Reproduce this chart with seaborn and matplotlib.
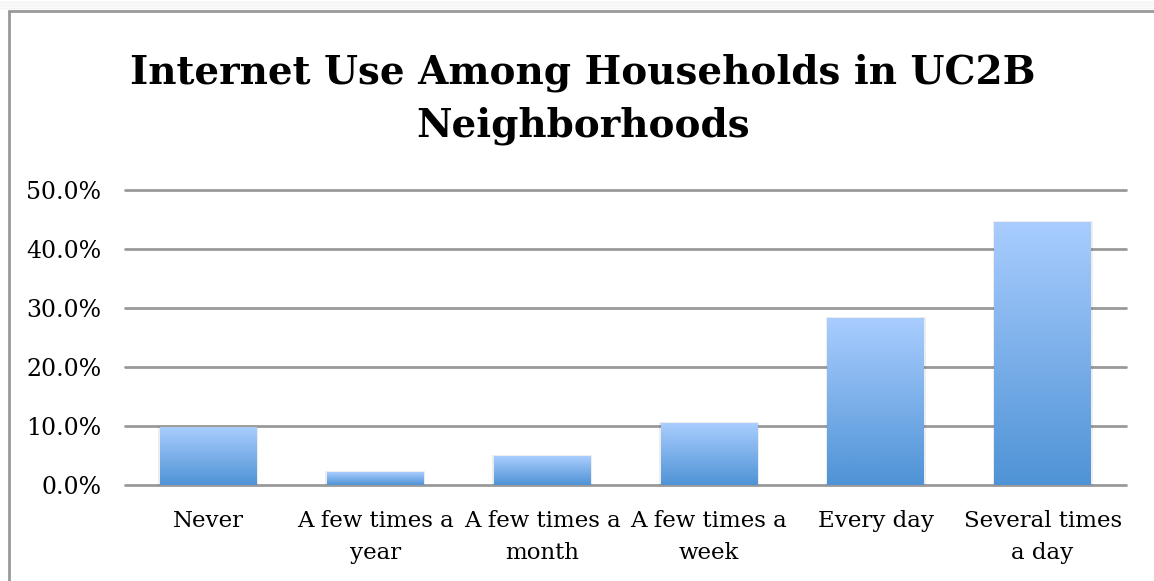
import numpy as np
import pandas as pd
import matplotlib
matplotlib.use("Agg")
import matplotlib.pyplot as plt
import matplotlib.patches as mpatches
from matplotlib.colors import LinearSegmentedColormap
import seaborn as sns

categories = ["Never", "A few times a\nyear", "A few times a\nmonth",
              "A few times a\nweek", "Every day", "Several times\na day"]
values = [9.8, 2.2, 4.9, 10.5, 28.3, 44.6]
yticks = [0, 10, 20, 30, 40, 50]
title = "Internet Use Among Households in UC2B\nNeighborhoods"

sns.set_theme(style="white")
plt.rcParams['font.family'] = ['DejaVu Serif']
plt.rcParams['text.color'] = 'black'
plt.rcParams['xtick.color'] = 'black'
plt.rcParams['ytick.color'] = 'black'

fig = plt.figure(figsize=(11.54, 5.81), dpi=100)
ax = fig.add_axes([125/1154, 1-485/581, 1001/1154, 295/581])

df = pd.DataFrame({"cat": categories, "val": values})
sns.barplot(data=df, x="cat", y="val", ax=ax, width=0.58, color="#7fb0ea",
            saturation=1, zorder=3)

ax.set_ylim(0, 50)
ax.set_xlim(-0.5, len(categories)-0.5)
ax.set_yticks(yticks)
ax.set_yticklabels([f"{t:.1f}%" for t in yticks], fontsize=17)
ax.set_xticks(range(len(categories)))
ax.set_xticklabels(categories, fontsize=16.5, linespacing=1.6)
ax.tick_params(axis='x', length=0, pad=18, colors='black')
ax.tick_params(axis='y', length=0, pad=17, colors='black')
ax.set_xlabel("")
ax.set_ylabel("")
for s in ax.spines.values():
    s.set_visible(False)
ax.yaxis.grid(True, color="#999999", linewidth=2, zorder=0)
for gl in ax.get_ygridlines():
    gl.set_clip_on(False)
ax.set_axisbelow(True)

cmap = LinearSegmentedColormap.from_list("g", ["#4f93d6", "#a9cdfe"])
grad = np.linspace(0, 1, 256).reshape(-1, 1)
for p in ax.patches:
    x0, y0 = p.get_x(), p.get_y()
    w, h = p.get_width(), p.get_height()
    sh = mpatches.Rectangle((x0 - 0.01, y0 - 0.4), w + 0.02, h + 0.5,
                            facecolor="#000000", alpha=0.07, edgecolor="none",
                            zorder=2)
    ax.add_patch(sh)
    im = ax.imshow(grad, extent=[x0, x0 + w, y0, y0 + h], origin="lower",
                   cmap=cmap, aspect="auto", zorder=4)
    im.set_clip_path(p)
    p.set_facecolor("none")
    p.set_edgecolor("none")

ax.set_xlim(-0.5, len(categories)-0.5)
ax.set_ylim(0, 50)

fig.text(583/1154, 1-99/581, title, ha="center", va="center", fontsize=28,
         fontweight="bold", linespacing=1.5, color="black")

# frame
fig.add_artist(plt.Line2D([9/1154, 9/1154], [0, 1-11/581], color="#999999",
                          linewidth=2, transform=fig.transFigure))
fig.add_artist(plt.Line2D([9/1154, 1], [1-11/581, 1-11/581], color="#999999",
                          linewidth=2, transform=fig.transFigure))
for i in range(6):
    fig.add_artist(plt.Line2D([0, 1], [1-(9-i*1.5)/581]*2, color="#000000",
                              alpha=0.02, linewidth=1.5, transform=fig.transFigure))

fig.savefig("out.png", dpi=100, facecolor="white")
